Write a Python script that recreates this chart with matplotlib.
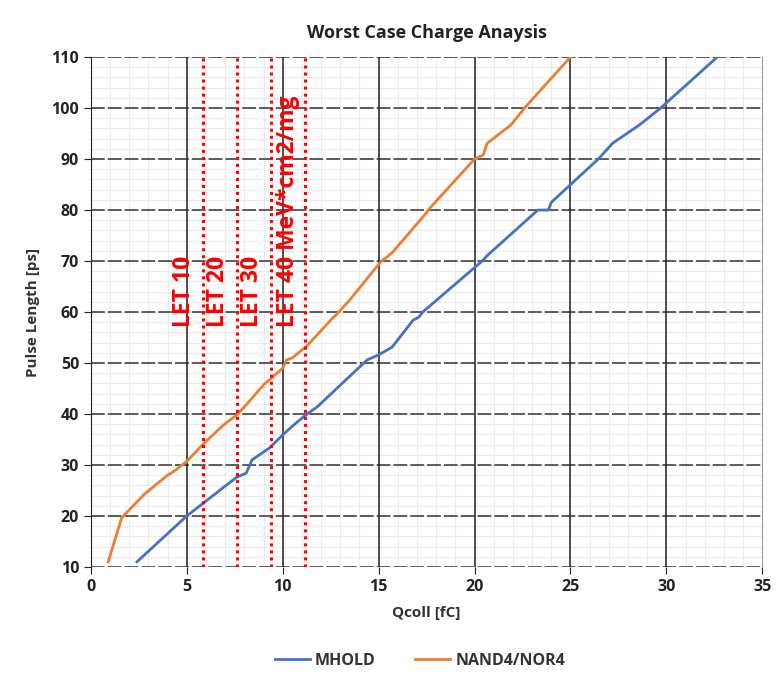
import matplotlib.pyplot as plt
import numpy as np

# curve data
mhold_q = [2.4, 5.0, 7.6, 8.1, 8.4, 9.3, 10.0, 10.5, 11.2, 11.8, 14.4, 15.0, 15.7,
           16.8, 17.1, 17.3, 20.4, 20.7, 23.3, 23.85, 24.0, 26.45, 27.2, 28.6, 29.7, 32.65]
mhold_pl = [11, 20, 27.6, 28.4, 31, 33.3, 35.9, 37.6, 39.8, 41.4, 50.6, 51.6, 53.1,
            58.4, 59.0, 60, 70, 71.2, 80, 80, 81.5, 90, 93.1, 96.7, 100, 110]

nand_q = [0.9, 1.6, 2.1, 2.8, 4.0, 4.3, 5.0, 5.8, 6.9, 7.6, 8.1, 9.0, 10.0, 10.2,
          10.5, 11.3, 12.6, 12.8, 13.5, 15.1, 15.7, 17.5, 17.7, 20.0, 20.45, 20.66,
          21.9, 22.6, 25.0]
nand_pl = [11, 19.6, 21.6, 24.3, 28, 28.7, 30.7, 33.9, 37.8, 39.8, 41.8, 45.7, 49, 50.6,
           51, 53.5, 58.8, 59.5, 62.4, 69.8, 71.6, 79.5, 80.5, 90, 90.8, 93.1,
           96.7, 100, 110]

let_x = [5.84, 7.62, 9.39, 11.16]
let_labels = ["LET 10", "LET 20", "LET 30", "LET 40 MeV*cm2/mg"]

plt.rcParams['font.family'] = ['Open Sans', 'DejaVu Sans']

fig = plt.figure(figsize=(7.77, 6.88), dpi=100)
ax = fig.add_axes([0.117, 0.176, 0.864, 0.741])

ax.set_xlim(0, 35)
ax.set_ylim(10, 110)
ax.set_xticks(np.arange(0, 36, 5))
ax.set_yticks(np.arange(10, 111, 10))

# grid drawn by hand so minor lines stay under the major ones
for x in np.arange(0, 36, 1):
    ax.axvline(x, color='#ebebeb', lw=0.8, zorder=0)
for y in np.arange(10, 111, 2):
    ax.axhline(y, color='#ebebeb', lw=0.8, zorder=0)
for y in np.arange(10, 111, 10):
    ax.axhline(y, color='#333333', lw=1.1, linestyle=(0, (9, 2)), zorder=1)
for x in np.arange(5, 31, 5):
    ax.axvline(x, color='#222222', lw=1.1, zorder=1.5)

for s in ['top', 'bottom']:
    ax.spines[s].set_visible(False)
ax.spines['left'].set_color('#222222')
ax.spines['right'].set_color('#999999')

ax.plot(mhold_q, mhold_pl, color='#4472C4', lw=2, label='MHOLD', zorder=3)
ax.plot(nand_q, nand_pl, color='#ED7D31', lw=2, label='NAND4/NOR4', zorder=3)

for x in let_x:
    ax.plot([x, x], [10, 110], color='red', lw=2.2, linestyle=(0, (1, 1.3)), zorder=4)

label_pos = [4.85, 6.6, 8.4, 10.3]
for x, t in zip(label_pos, let_labels):
    ax.text(x, 57, t, rotation=90, color='red', fontsize=16.5, fontweight='bold',
            ha='center', va='bottom', zorder=5)

ax.tick_params(which='major', length=5, color='#222222', labelsize=11.5, labelcolor='#222222')
for lab in ax.get_xticklabels() + ax.get_yticklabels():
    lab.set_fontweight('bold')

ax.set_xlabel('Qcoll [fC]', fontsize=11, fontweight='bold', color='#333333', labelpad=8)
ax.set_ylabel('Pulse Length [ps]', fontsize=11, fontweight='bold', color='#333333', labelpad=8)
ax.set_title('Worst Case Charge Anaysis', fontsize=13, fontweight='bold', color='#222222', pad=14)

leg = ax.legend(loc='upper center', bbox_to_anchor=(0.49, -0.14), ncol=2, frameon=False,
                prop={'weight': 'bold', 'size': 11.5}, handlelength=2.2, columnspacing=2.5,
                handletextpad=0.3)
for t in leg.get_texts():
    t.set_color('#333333')

fig.savefig('out.png', dpi=100)
